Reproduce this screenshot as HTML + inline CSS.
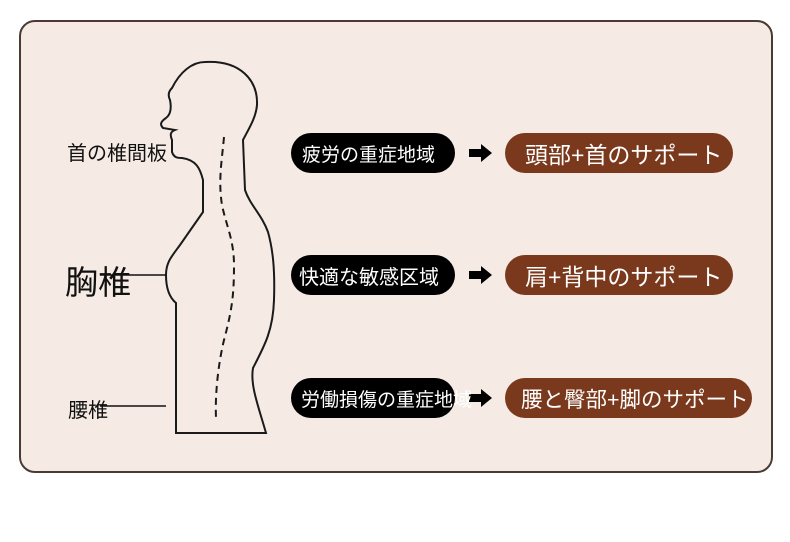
<!DOCTYPE html>
<html><head><meta charset="utf-8"><style>
body{margin:0;width:790px;height:542px;background:#fff;position:relative;overflow:hidden;font-family:"Liberation Sans","Noto Sans CJK JP",sans-serif}
.panel{position:absolute;left:19px;top:20px;width:750px;height:449px;border:2px solid #4a3a34;border-radius:16px;background:#f5ebe4}
.pill{position:absolute;height:40px;border-radius:20px;color:#fff;display:flex;align-items:center;white-space:nowrap}
.b{background:#000;left:291px;width:164px;font-size:19px;padding-left:11px;box-sizing:border-box}
.r{background:#7a391c;left:505px;font-size:23px;padding-left:20px;box-sizing:border-box}
.lbl{position:absolute;color:#111;white-space:nowrap}
</style></head><body>
<div class="panel"></div>
<svg width="790" height="542" style="position:absolute;left:0;top:0">
<path d="M176,433 L176,303 C170,298 166,290 166,275 C166,262 172,256 180,245 L203,212 L203,180 C200,168 196,160 182,158 C178,158 174,158 172,152 L172,140 C170,135 170,132 175,130 L163,128 C160,125 160,122 166,118 C170,115 172,110 170,100 C168,96 168,92 172,88 C180,72 192,62 205,62 C240,60 258,80 257,105 C256,118 248,130 243,140 L245,190 C250,205 262,215 268,232 C273,250 275,270 274,300 C273,330 265,345 253,368 C250,385 258,405 266,433 Z" fill="none" stroke="#1a1a1a" stroke-width="2"/>
<path d="M224,137 C222,160 218,180 222,205 C226,225 234,240 234,265 C234,295 232,310 224,340 C218,365 215,395 216,418" fill="none" stroke="#1a1a1a" stroke-width="2" stroke-dasharray="7,5"/>
<line x1="100" y1="275" x2="166" y2="275" stroke="#111" stroke-width="1.5"/>
<line x1="100" y1="406" x2="166" y2="406" stroke="#111" stroke-width="1.5"/>
<g fill="#000">
<path d="M469,149 h12 v-5 l11,9 l-11,9 v-5 h-12z"/>
<path d="M469,271 h12 v-5 l11,9 l-11,9 v-5 h-12z"/>
<path d="M469,394 h12 v-5 l11,9 l-11,9 v-5 h-12z"/>
</g>
</svg>
<div class="lbl" style="left:67px;top:137px;font-size:20px">首の椎間板</div>
<div class="lbl" style="left:65px;top:256px;font-size:33px">胸椎</div>
<div class="lbl" style="left:68px;top:394px;font-size:20px">腰椎</div>
<div class="pill b" style="top:133px">疲労の重症地域</div>
<div class="pill b" style="top:255px;padding-left:8px;font-size:20px">快適な敏感区域</div>
<div class="pill b" style="top:378px;padding-left:10px">労働損傷の重症地域</div>
<div class="pill r" style="top:133px;width:228px">頭部+首のサポート</div>
<div class="pill r" style="top:255px;width:228px">肩+背中のサポート</div>
<div class="pill r" style="top:378px;width:247px;padding-left:16px;font-size:21.5px">腰と臀部+脚のサポート</div>
</body></html>
